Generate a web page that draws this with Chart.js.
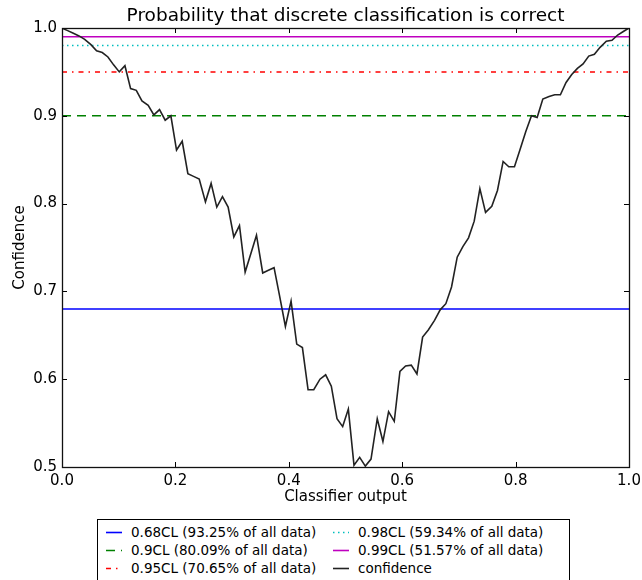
<!DOCTYPE html>
<html><head><meta charset="utf-8">
<script src="https://cdn.jsdelivr.net/npm/chart.js@4.4.1/dist/chart.umd.min.js"></script>
<style>
html,body{margin:0;padding:0;background:#fff;}
#wrap{position:relative;width:642px;height:580px;overflow:hidden;font-family:"DejaVu Sans",sans-serif;}
#box{position:absolute;left:0;top:0;width:642px;height:510px;}
#title{position:absolute;left:62px;width:567px;top:3px;height:24px;line-height:24px;text-align:center;font-size:18.5px;color:#000;white-space:nowrap;}
#legend{position:absolute;left:97px;top:519px;width:473px;height:64px;border:1px solid #000;box-sizing:border-box;background:#fff;}
.item{position:absolute;height:18px;line-height:18px;font-size:13.5px;color:#000;white-space:nowrap;}
.item svg{position:absolute;left:0;top:0;}
.item span{position:absolute;left:25px;top:0;}
</style></head>
<body><div id="wrap"><div id="box"><canvas id="c" width="642" height="510"></canvas></div><div id="title"></div><div id="legend"></div></div>
<script>
// ---- data ----
const xValues = [0.000,0.010,0.020,0.030,0.040,0.051,0.061,0.071,0.081,0.091,
  0.101,0.111,0.121,0.131,0.141,0.152,0.162,0.172,0.182,0.192,
  0.202,0.212,0.222,0.232,0.242,0.253,0.263,0.273,0.283,0.293,
  0.303,0.313,0.323,0.333,0.343,0.354,0.364,0.374,0.384,0.394,
  0.404,0.414,0.424,0.434,0.444,0.455,0.465,0.475,0.485,0.495,
  0.505,0.515,0.525,0.535,0.545,0.556,0.566,0.576,0.586,0.596,
  0.606,0.616,0.626,0.636,0.646,0.657,0.667,0.677,0.687,0.697,
  0.707,0.717,0.727,0.737,0.747,0.758,0.768,0.778,0.788,0.798,
  0.808,0.818,0.828,0.838,0.848,0.859,0.869,0.879,0.889,0.899,
  0.909,0.919,0.929,0.939,0.949,0.960,0.970,0.980,0.990,1.000];
const confidence = [1.000,0.997,0.994,0.991,0.987,0.981,0.974,0.972,0.967,0.958,
  0.950,0.957,0.931,0.929,0.917,0.912,0.901,0.907,0.895,0.900,
  0.861,0.871,0.834,0.831,0.828,0.802,0.823,0.796,0.808,0.796,
  0.762,0.775,0.722,0.743,0.764,0.721,0.724,0.727,0.694,0.660,
  0.689,0.640,0.636,0.588,0.588,0.600,0.605,0.592,0.555,0.546,
  0.566,0.502,0.511,0.501,0.509,0.555,0.529,0.563,0.552,0.609,
  0.615,0.616,0.606,0.648,0.656,0.667,0.679,0.686,0.705,0.739,
  0.751,0.761,0.780,0.817,0.790,0.797,0.815,0.848,0.842,0.842,
  0.862,0.882,0.900,0.898,0.919,0.922,0.924,0.924,0.938,0.947,
  0.954,0.959,0.968,0.970,0.978,0.985,0.986,0.992,0.996,1.000];
const clLevels = [0.68, 0.9, 0.95, 0.98, 0.99];
const clFractions = [93.25, 80.09, 70.65, 59.34, 51.57];
const xTicks = [0.0, 0.2, 0.4, 0.6, 0.8, 1.0];
const yTicks = [0.5, 0.6, 0.7, 0.8, 0.9, 1.0];
const titleText = 'Probability that discrete classification is correct';
const xTitle = 'Classifier output';
const yTitle = 'Confidence';
const curveLabel = 'confidence';

// ---- styles ----
const clColors = ['#0000ff', '#008000', '#ff0000', '#00bfbf', '#bf00bf'];
const clDashes = [[], [9, 6], [5, 5, 1.5, 5], [1.5, 3.5], []];
const curveColor = '#222222';
const FONT = '"DejaVu Sans", sans-serif';

const clLabels = clLevels.map((l, i) => l + 'CL (' + clFractions[i].toFixed(2) + '% of all data)');

const datasets = clLevels.map((l, i) => ({
  label: clLabels[i],
  data: [{x: 0, y: l}, {x: 1, y: l}],
  borderColor: clColors[i],
  borderWidth: 1.5,
  borderDash: clDashes[i],
  pointRadius: 0,
  fill: false,
  order: 1
}));
datasets.push({
  label: curveLabel,
  data: xValues.map((x, i) => ({x: x, y: confidence[i]})),
  borderColor: curveColor,
  borderWidth: 1.6,
  pointRadius: 0,
  tension: 0,
  fill: false,
  order: 0
});

const framePlugin = {
  id: 'frame',
  afterDatasetsDraw(chart) {
    const {ctx, chartArea: a, scales} = chart;
    const xs = scales.x, ys = scales.y;
    ctx.save();
    ctx.strokeStyle = '#000';
    ctx.lineWidth = 1;
    ctx.beginPath();
    xs.ticks.forEach(t => {
      const p = Math.round(xs.getPixelForValue(t.value)) + 0.5;
      ctx.moveTo(p, a.bottom); ctx.lineTo(p, a.bottom - 5);
      ctx.moveTo(p, a.top); ctx.lineTo(p, a.top + 5);
    });
    ys.ticks.forEach(t => {
      const p = Math.round(ys.getPixelForValue(t.value)) + 0.5;
      ctx.moveTo(a.left, p); ctx.lineTo(a.left + 5, p);
      ctx.moveTo(a.right, p); ctx.lineTo(a.right - 5, p);
    });
    ctx.stroke();
    ctx.lineWidth = 1.3;
    ctx.strokeStyle = '#111';
    ctx.strokeRect(Math.round(a.left) + 0.5, Math.round(a.top) + 0.5, Math.round(a.width), Math.round(a.height));
    ctx.restore();
  }
};

new Chart(document.getElementById('c'), {
  type: 'line',
  data: {datasets: datasets},
  options: {
    responsive: false,
    animation: false,
    layout: {padding: {left: 0, right: 13, top: 28, bottom: 0}},
    plugins: {
      legend: {display: false},
      tooltip: {enabled: false},
      title: {display: false}
    },
    scales: {
      x: {
        type: 'linear', min: 0, max: 1,
        afterBuildTicks: s => { s.ticks = xTicks.map(v => ({value: v})); },
        ticks: {color: '#000', font: {family: FONT, size: 15}, padding: 5, maxRotation: 0, autoSkip: false,
          callback: v => Number(v).toFixed(1)},
        grid: {display: false, drawTicks: false},
        border: {display: false},
        title: {display: true, text: xTitle, color: '#000', font: {family: FONT, size: 15}, padding: {top: 0, bottom: 4}},
        afterFit: s => { s.height = 43; s.paddingLeft = 0; s.paddingRight = 0; }
      },
      y: {
        type: 'linear', min: 0.5, max: 1.0,
        afterBuildTicks: s => { s.ticks = yTicks.map(v => ({value: v})); },
        ticks: {color: '#000', font: {family: FONT, size: 15}, padding: 5, autoSkip: false,
          callback: v => Number(v).toFixed(1)},
        grid: {display: false, drawTicks: false},
        border: {display: false},
        title: {display: true, text: yTitle, color: '#000', font: {family: FONT, size: 15}, padding: {top: 11, bottom: 0}},
        afterFit: s => { s.width = 62; s.paddingTop = 0; s.paddingBottom = 0; }
      }
    }
  },
  plugins: [framePlugin]
});

document.getElementById('title').textContent = titleText;

// ---- legend (two columns, as in the reference) ----
const legendItems = clLabels.map((t, i) => ({text: t, color: clColors[i], dash: clDashes[i]}));
legendItems.push({text: curveLabel, color: curveColor, dash: []});
const leg = document.getElementById('legend');
const colLeft = [8, 235];
const rowTop = [3, 21, 39];
legendItems.forEach((it, k) => {
  const col = k < 3 ? 0 : 1, row = k % 3;
  const d = document.createElement('div');
  d.className = 'item';
  d.style.left = colLeft[col] + 'px';
  d.style.top = rowTop[row] + 'px';
  const dash = it.dash.length ? ' stroke-dasharray="' + it.dash.join(' ') + '"' : '';
  d.innerHTML = '<svg width="16" height="18"><line x1="0" y1="9.5" x2="16" y2="9.5" stroke="' + it.color + '" stroke-width="1.6"' + dash + '/></svg><span></span>';
  d.querySelector('span').textContent = it.text;
  leg.appendChild(d);
});
</script>
</body></html>
